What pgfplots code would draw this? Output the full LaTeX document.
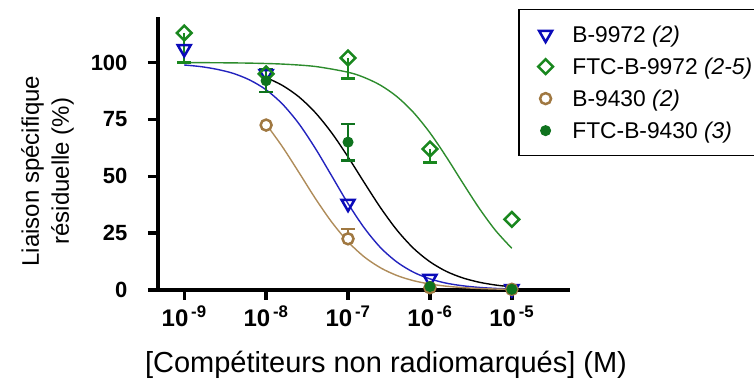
\documentclass[border=0pt]{standalone}
\usepackage{pgfplots}
\pgfplotsset{compat=1.18}
\usepackage{fontspec}
\setmainfont{Liberation Sans}
\definecolor{cblue}{RGB}{10,10,185}
\definecolor{cbluel}{RGB}{35,35,190}
\definecolor{cgreen}{RGB}{25,135,30}
\definecolor{cgreenl}{RGB}{45,140,45}
\definecolor{cdgreen}{RGB}{15,115,30}
\definecolor{cbrown}{RGB}{160,120,65}
\definecolor{cbrownl}{RGB}{175,140,90}
\begin{document}
\begin{tikzpicture}
\begin{axis}[name=ax,
  scale only axis, width=412pt, height=273pt,
  xmin=-9.32, xmax=-4.29, ymin=0, ymax=120,
  axis lines*=left, clip=false,
  axis line style={line width=3.3pt, -},
  x axis line style={shorten <=-8pt},
  tick style={line width=3.3pt, black},
  tick align=outside, major tick length=10pt,
  xtick={-9,-8,-7,-6,-5},
  xticklabels={\textbf{10\textsuperscript{\,-9}},\textbf{10\textsuperscript{\,-8}},\textbf{10\textsuperscript{\,-7}},\textbf{10\textsuperscript{\,-6}},\textbf{10\textsuperscript{\,-5}}},
  xticklabel style={font=\fontsize{24}{24}\selectfont, anchor=north, yshift=-2pt},
  ytick={0,25,50,75,100},
  yticklabels={\textbf{0},\textbf{25},\textbf{50},\textbf{75},\textbf{100}},
  yticklabel style={font=\fontsize{22}{22}\selectfont, xshift=-17pt},
  legend style={at={(0.874,1.03)}, anchor=north west, draw=black, line width=1.5pt,
    font=\fontsize{22.8}{22.8}\selectfont, row sep=10pt, inner xsep=2pt, inner ysep=14pt,
    cells={anchor=west, inner xsep=1pt}},
  legend cell align=left,
  legend image code/.code={\path (-24pt,0pt) (24pt,0pt); \draw[#1] plot coordinates {(0pt,0pt)};},
]
% fitted curves
\addplot[forget plot, cgreenl, line width=1.4pt, smooth] coordinates {
(-9,99.96) (-8.6,99.89) (-8.2,99.72) (-7.8,99.30) (-7.4,98.25) (-7.0,95.72) (-6.8,93.39)
(-6.6,89.93) (-6.4,84.9) (-6.2,78.0) (-6.0,69.1) (-5.8,58.5) (-5.6,47.1) (-5.4,36.0)
(-5.2,26.2) (-5.0,18.3)};
\addplot[forget plot, cbluel, line width=1.4pt, smooth] coordinates {
(-9,98.9) (-8.8,98.2) (-8.6,97.0) (-8.4,95.2) (-8.2,92.3) (-8.0,88.0) (-7.8,81.7)
(-7.6,73.1) (-7.4,62.3) (-7.2,50.2) (-7.0,38.0) (-6.8,27.2) (-6.6,18.5) (-6.4,12.2)
(-6.2,7.8) (-6.0,4.9) (-5.8,3.0) (-5.6,1.86) (-5.4,1.14) (-5.2,0.70) (-5.0,0.43)};
\addplot[forget plot, black, line width=1.4pt, smooth] coordinates {
(-8.0,93.4) (-7.8,89.9) (-7.6,84.9) (-7.4,78.0) (-7.2,69.1) (-7.0,58.5) (-6.8,47.1)
(-6.6,36.0) (-6.4,26.2) (-6.2,18.3) (-6.0,12.4) (-5.8,8.18) (-5.6,5.32) (-5.4,3.42)
(-5.2,2.19) (-5.0,1.39)};
\addplot[forget plot, cbrownl, line width=1.4pt, smooth] coordinates {
(-8.0,72.9) (-7.8,62.9) (-7.6,51.7) (-7.4,40.3) (-7.2,29.9) (-7.0,21.2) (-6.8,14.5)
(-6.6,9.68) (-6.4,6.33) (-6.2,4.09) (-6.0,2.62) (-5.8,1.67) (-5.6,1.06) (-5.4,0.67)
(-5.2,0.43) (-5.0,0.27)};
% error bars
\addplot[forget plot, draw=none, mark=none,
  error bars/.cd, y dir=minus, y explicit,
  error bar style={draw=cgreen, line width=2.5pt},
  error mark options={draw=cgreen, rotate=90, mark size=7pt, line width=2.5pt}]
  coordinates {(-9,113) -= (0,13) (-7,102) -= (0,9) (-6,62) -= (0,6)};
\addplot[forget plot, draw=none, mark=none,
  error bars/.cd, y dir=plus, y explicit,
  error bar style={draw=cbrown, line width=2.5pt},
  error mark options={draw=cbrown, rotate=90, mark size=7pt, line width=2.5pt}]
  coordinates {(-7,22.5) += (0,4.3)};
\addplot[forget plot, draw=none, mark=none,
  error bars/.cd, y dir=both, y explicit,
  error bar style={draw=cdgreen, line width=2.5pt},
  error mark options={draw=cdgreen, rotate=90, mark size=7pt, line width=2.5pt}]
  coordinates {(-8,92) +- (0,5) (-7,65) +- (0,8)};
% data points
\addplot[only marks, mark=triangle, mark size=7.5pt,
  mark options={rotate=180, draw=cblue, fill=white, line width=2.5pt}]
  coordinates {(-9,106) (-8,95) (-7,38) (-6,5) (-5,0.5)};
\addlegendentry{B-9972 \textit{(2)}}
\addplot[only marks, mark=square, mark size=5.2pt,
  mark options={rotate=45, draw=cgreen, fill=white, line width=2.5pt}]
  coordinates {(-9,113) (-8,95) (-7,102) (-6,62) (-5,31)};
\addlegendentry{FTC-B-9972 \textit{(2-5)}}
\addplot[only marks, mark=*, mark size=5.5pt,
  mark options={draw=cbrown, fill=white, line width=2.5pt}]
  coordinates {(-8,72.5) (-7,22.5) (-6,1) (-5,0.3)};
\addlegendentry{B-9430 \textit{(2)}}
\addplot[only marks, mark=*, mark size=5pt,
  mark options={draw=cdgreen, fill=cdgreen, line width=1pt}]
  coordinates {(-8,92) (-7,65) (-6,1.5) (-5,0.3)};
\addlegendentry{FTC-B-9430 \textit{(3)}}
\end{axis}
\node[rotate=90, align=center, font=\fontsize{24}{30}\selectfont]
  at ([shift={(-110.5pt,119pt)}]ax.south west) {Liaison spécifique\\résiduelle (\%)};
\node[anchor=base, font=\fontsize{29}{29}\selectfont]
  at ([shift={(228pt,-82pt)}]ax.south west) {[Compétiteurs non radiomarqués] (M)};
\pgfresetboundingbox
\path[use as bounding box] ([shift={(-158pt,-92pt)}]ax.south west) rectangle ++(754pt,382pt);
\end{tikzpicture}
\end{document}
